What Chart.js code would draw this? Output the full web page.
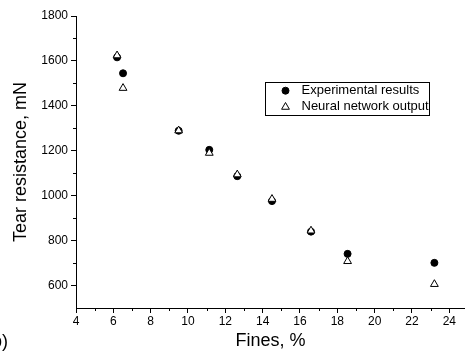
<!DOCTYPE html>
<html>
<head>
<meta charset="utf-8">
<script src="https://cdn.jsdelivr.net/npm/chart.js@4.4.0/dist/chart.umd.min.js"></script>
<style>
  html, body { margin: 0; padding: 0; background: #fff; overflow: hidden; }
  #wrap { width: 465px; height: 363px; }
</style>
</head>
<body>
<div id="wrap"><canvas id="myChart"></canvas></div>
<script>
const fines = [6.2, 6.52, 9.5, 11.14, 12.64, 14.5, 16.59, 18.55, 23.2];
const experimental = [1616, 1545, 1289, 1204, 1087, 976, 840, 741, 701];
const network = [1624, 1479, 1290, 1190, 1094, 985, 844, 708, 606];
const xTicks = [4, 6, 8, 10, 12, 14, 16, 18, 20, 22, 24];
const xMinor = [5, 7, 9, 11, 13, 15, 17, 19, 21, 23];
const yTicks = [600, 800, 1000, 1200, 1400, 1600, 1800];
const yMinor = [700, 900, 1100, 1300, 1500, 1700];
const seriesNames = ["Experimental results", "Neural network output"];

const FONT = "'Liberation Sans', Arial, sans-serif";
Chart.defaults.font.family = FONT;
Chart.defaults.color = "#000000";

const ctx = document.getElementById("myChart");

// minor ticks, shorter than the major ones
const minorTicks = {
  id: "minorTicks",
  afterDraw(chart) {
    const c = chart.ctx;
    const x = chart.scales.x;
    const y = chart.scales.y;
    c.save();
    c.strokeStyle = "#000000";
    c.lineWidth = 1;
    c.beginPath();
    xMinor.forEach((v) => {
      const px = Math.round(x.getPixelForValue(v)) + 0.5;
      c.moveTo(px, x.top);
      c.lineTo(px, x.top + 3);
    });
    yMinor.forEach((v) => {
      const py = Math.round(y.getPixelForValue(v)) + 0.5;
      c.moveTo(y.right, py);
      c.lineTo(y.right - 3, py);
    });
    c.stroke();
    c.restore();
  },
};

// boxed legend inside the plot, plus the cut-off panel label
const boxLegend = {
  id: "boxLegend",
  afterDraw(chart) {
    const c = chart.ctx;
    c.save();
    c.strokeStyle = "#000000";
    c.lineWidth = 1;
    c.strokeRect(265.5, 82.5, 164, 33);
    const rows = [90.7, 106];
    chart.data.datasets.forEach((ds, i) => {
      c.fillStyle = ds.pointBackgroundColor;
      c.strokeStyle = ds.pointBorderColor;
      c.lineWidth = ds.pointBorderWidth;
      Chart.helpers.drawPoint(c, {
        pointStyle: ds.pointStyle,
        radius: ds.pointRadius,
        rotation: 0,
        borderWidth: ds.pointBorderWidth,
      }, 285.5, rows[i] + (ds.pointStyle === "triangle" ? 1 : 0));
      c.fillStyle = "#000000";
      c.font = "13px " + FONT;
      c.textBaseline = "middle";
      c.textAlign = "left";
      c.fillText(seriesNames[i], 301.5, rows[i]);
    });
    c.font = "18px " + FONT;
    c.textAlign = "right";
    c.fillText("b)", 8, 342);
    c.restore();
  },
};

const data = {
  datasets: [
    {
      label: seriesNames[0],
      data: fines.map((f, i) => ({ x: f, y: experimental[i] })),
      pointStyle: "circle",
      pointRadius: 3.5,
      pointBackgroundColor: "#000000",
      pointBorderColor: "#000000",
      pointBorderWidth: 1,
      showLine: false,
      order: 1,
    },
    {
      label: seriesNames[1],
      data: fines.map((f, i) => ({ x: f, y: network[i] })),
      pointStyle: "triangle",
      pointRadius: 4.5,
      pointBackgroundColor: "#ffffff",
      pointBorderColor: "#000000",
      pointBorderWidth: 1,
      showLine: false,
      order: 0,
    },
  ],
};

const chart = new Chart(ctx, {
  type: "scatter",
  data: data,
  options: {
    responsive: true,
    maintainAspectRatio: false,
    animation: false,
    layout: { autoPadding: false, padding: { top: 16, right: 0, bottom: 0, left: 0 } },
    plugins: {
      legend: { display: false },
      tooltip: { enabled: false },
    },
    scales: {
      x: {
        type: "linear",
        min: 4,
        max: 24.84,
        afterBuildTicks: (s) => { s.ticks = xTicks.map((v) => ({ value: v })); },
        afterFit: (s) => { s.height = 55; s.paddingLeft = 0; s.paddingRight = 0; },
        border: { color: "#000000", width: 1 },
        grid: { drawOnChartArea: false, tickLength: 5, color: "#000000" },
        ticks: {
          font: { size: 12 }, padding: 1, maxRotation: 0, autoSkip: false, color: "#000000",
          callback: (v) => String(v),
        },
        title: { display: true, text: "Fines, %", font: { size: 18 }, color: "#000000", padding: { top: 0, bottom: 11 } },
      },
      y: {
        type: "linear",
        min: 500,
        max: 1800,
        afterBuildTicks: (s) => { s.ticks = yTicks.map((v) => ({ value: v })); },
        afterFit: (s) => { s.width = 76; },
        border: { color: "#000000", width: 1 },
        grid: { drawOnChartArea: false, tickLength: 5, color: "#000000" },
        ticks: {
          font: { size: 12 }, padding: 3, autoSkip: false, color: "#000000",
          callback: (v) => String(v),
        },
        title: { display: true, text: "Tear resistance, mN", font: { size: 18 }, color: "#000000", padding: { top: 10, bottom: 0 } },
      },
    },
  },
  plugins: [minorTicks, boxLegend],
});
</script>
</body>
</html>
